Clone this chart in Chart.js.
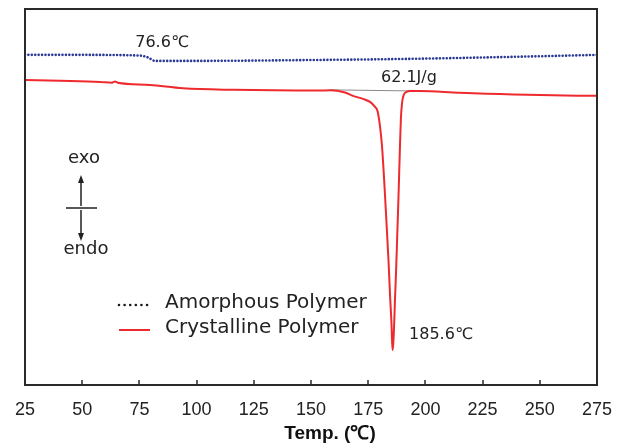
<!DOCTYPE html>
<html>
<head>
<meta charset="utf-8">
<script src="https://cdn.jsdelivr.net/npm/chart.js@4/dist/chart.umd.min.js"></script>
<style>
  html, body { margin:0; padding:0; background:#fff; }
  canvas { display:block; }
</style>
</head>
<body>
<canvas id="dsc" width="628" height="448"></canvas>
<script>
// DSC curves, temperature in degC, heat flow in arbitrary units (0-100)
const xTicks = [25, 50, 75, 100, 125, 150, 175, 200, 225, 250, 275];

const amorTemp = [25, 50, 75.3, 78.8, 81.8, 101.5, 145.2, 188.9, 232.6, 275];
const amorFlow = [87.8, 87.8, 87.6, 87.1, 86.2, 86.2, 86.4, 86.7, 87.2, 87.8];

const crystTemp = [25, 40.3, 57.8, 63.0, 64.3, 65.6, 79.6, 94.1, 115.9, 153.9, 158.3,
  164.9, 168.4, 172.7, 175.8, 177.8, 179.1, 180.2, 181.0, 182.1, 183.1,
  183.9, 184.5, 185.2, 185.6, 185.9, 186.3, 186.7, 187.2, 187.7, 188.2,
  188.9, 189.3, 189.8, 190.4, 191.1, 193.3, 197.6, 215.1, 232.6, 250.1, 275];
const crystFlow = [81.1, 80.9, 80.6, 80.4, 80.7, 80.4, 79.8, 78.9, 78.5, 78.3, 78.4,
  77.8, 76.9, 76.1, 75.3, 74.1, 72.8, 68.6, 63.8, 53.2, 42.0,
  32.7, 24.5, 16.0, 9.3, 10.6, 15.4, 22.6, 30.6, 39.9, 49.2,
  63.8, 71.0, 75.0, 76.9, 77.7, 78.2, 78.2, 77.7, 77.4, 77.1, 76.9];

// integration baseline under the melting peak
const baseTemp = [158.3, 194.2];
const baseFlow = [78.5, 78.2];

const noteText = ['76.6℃', '62.1J/g', '185.6℃'];
const noteTemp = [84.9, 192.8, 206.8];
const noteFlow = [91.0, 81.6, 13.3];

const AMOR = '#2b3a96', CRYS = '#ee2a2e', INK = '#222';
const pts = (xs, ys) => xs.map((x, i) => ({ x, y: ys[i] }));

const decor = {
  id: 'decor',
  afterDatasetsDraw(chart) {
    const { ctx, chartArea: a, scales: { x, y } } = chart;
    ctx.save();
    // frame + inward ticks
    ctx.strokeStyle = '#2a2a2a'; ctx.lineWidth = 2;
    ctx.strokeRect(a.left, a.top, a.right - a.left, a.bottom - a.top);
    ctx.beginPath();
    xTicks.slice(1, -1).forEach(t => { const px = Math.round(x.getPixelForValue(t)); ctx.moveTo(px, a.bottom); ctx.lineTo(px, a.bottom - 5); });
    ctx.lineWidth = 1.5; ctx.stroke();

    // annotations
    ctx.fillStyle = INK; ctx.font = '16px "DejaVu Sans"'; ctx.textAlign = 'center'; ctx.textBaseline = 'middle';
    noteText.forEach((t, i) => ctx.fillText(t, x.getPixelForValue(noteTemp[i]), y.getPixelForValue(noteFlow[i])));

    // axis title
    ctx.fillStyle = '#111'; ctx.font = 'bold 19px "Liberation Sans", Arial, sans-serif';
    ctx.fillText('Temp. (℃)', 330, 434);

    // exo / endo
    ctx.fillStyle = INK; ctx.font = '18px "DejaVu Sans"';
    ctx.fillText('exo', 84, 158);
    ctx.fillText('endo', 86, 249);
    ctx.strokeStyle = INK; ctx.lineWidth = 1.5;
    ctx.beginPath();
    ctx.moveTo(81, 206); ctx.lineTo(81, 180);
    ctx.moveTo(66, 208); ctx.lineTo(97, 208);
    ctx.moveTo(81, 210); ctx.lineTo(81, 236);
    ctx.stroke();
    ctx.beginPath(); ctx.moveTo(81, 175); ctx.lineTo(78, 183); ctx.lineTo(84, 183); ctx.closePath(); ctx.fill();
    ctx.beginPath(); ctx.moveTo(81, 241); ctx.lineTo(78, 233); ctx.lineTo(84, 233); ctx.closePath(); ctx.fill();

    // legend
    const ds = chart.data.datasets;
    ctx.font = '20px "DejaVu Sans"'; ctx.textAlign = 'left';
    [[0, 303], [1, 328]].forEach(([k, yy]) => {
      const d = ds[k];
      ctx.strokeStyle = k === 0 ? '#1a1a1a' : d.borderColor;
      ctx.lineWidth = k === 0 ? 2.6 : 2;
      ctx.lineCap = k === 0 ? 'round' : 'butt';
      ctx.setLineDash(k === 0 ? [0.01, 5.6] : []);
      ctx.beginPath(); ctx.moveTo(119, yy + 2); ctx.lineTo(150, yy + 2); ctx.stroke();
      ctx.setLineDash([]); ctx.lineCap = 'butt';
      ctx.fillStyle = INK;
      ctx.fillText(d.label, 165, yy);
    });
    ctx.restore();
  }
};

new Chart(document.getElementById('dsc'), {
  type: 'line',
  data: {
    datasets: [
      { label: 'Amorphous Polymer', data: pts(amorTemp, amorFlow), borderColor: AMOR, borderWidth: 2.6, borderCapStyle: 'round', borderDash: [0.01, 3.4], cubicInterpolationMode: 'monotone' },
      { label: 'Crystalline Polymer', data: pts(crystTemp, crystFlow), borderColor: CRYS, borderWidth: 2, cubicInterpolationMode: 'monotone' },
      { label: 'baseline', data: pts(baseTemp, baseFlow), borderColor: '#8a8a8a', borderWidth: 1 }
    ]
  },
  options: {
    responsive: false,
    animation: false,
    layout: { padding: { left: 25, right: 31, top: 9, bottom: 0 } },
    elements: { point: { radius: 0 } },
    plugins: { legend: { display: false }, tooltip: { enabled: false } },
    scales: {
      x: {
        type: 'linear', min: 25, max: 275,
        afterBuildTicks: s => { s.ticks = xTicks.map(v => ({ value: v })); },
        ticks: { color: INK, padding: 14, maxRotation: 0, font: { family: "'Liberation Sans', Arial, sans-serif", size: 18 } },
        grid: { display: false, drawTicks: false },
        border: { display: false },
        afterFit: s => { s.height = 63; }
      },
      y: { display: false, min: 0, max: 100 }
    }
  },
  plugins: [decor]
});
</script>
</body>
</html>
